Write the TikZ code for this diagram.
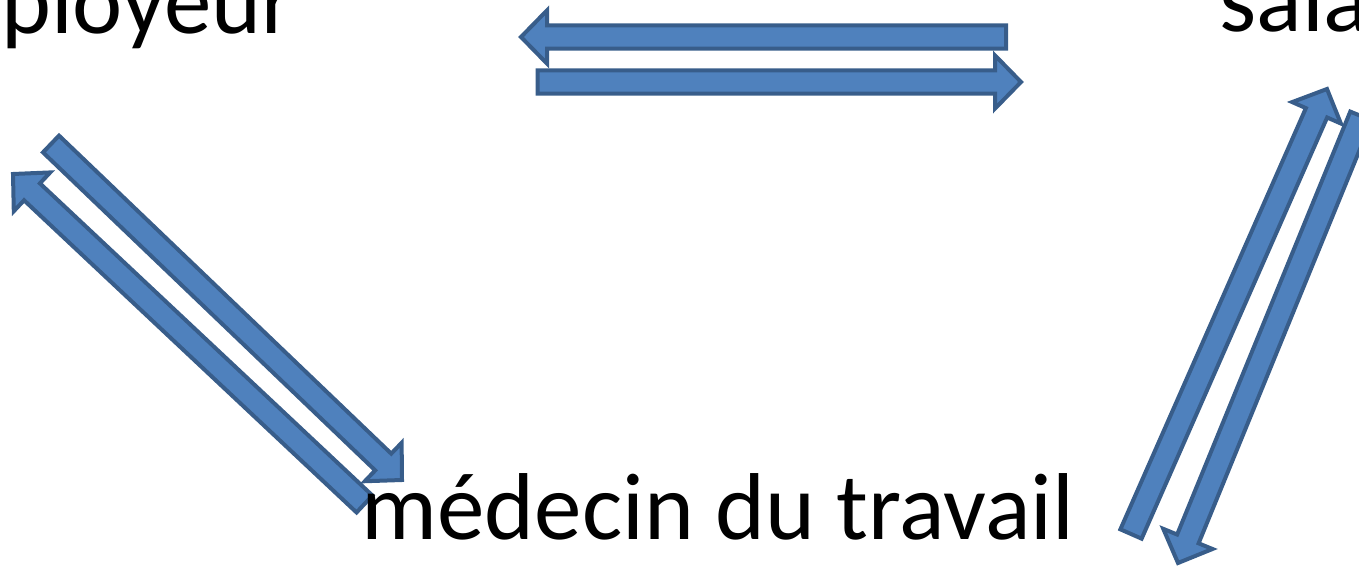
\documentclass[tikz,border=0pt]{standalone}
\usepackage{fontspec}
\setmainfont{Carlito}
\usetikzlibrary{calc}
\definecolor{arrowfill}{HTML}{4F81BD}
\definecolor{arrowline}{HTML}{385D8A}
\tikzset{
  blockarr/.style={fill=arrowfill, draw=arrowline, line width=2pt, line join=miter},
  lbl/.style={inner sep=0pt, font=\fontsize{47.5pt}{57pt}\selectfont, text=black}
}
% block arrow from tail coordinate #1 to tip coordinate #2
\newcommand\blockarrow[2]{%
  \draw[blockarr] let \p1=($(#2)-(#1)$), \n1={atan2(\y1,\x1)}, \n2={veclen(\x1,\y1)-13pt} in
   ($(#1)+(\n1+90:5.8pt)$) -- ($(#1)+(\n1:\n2)+(\n1+90:5.8pt)$)
   -- ($(#1)+(\n1:\n2)+(\n1+90:13.3pt)$) -- (#2)
   -- ($(#1)+(\n1:\n2)+(\n1-90:13.3pt)$) -- ($(#1)+(\n1:\n2)+(\n1-90:5.8pt)$)
   -- ($(#1)+(\n1-90:5.8pt)$) -- cycle;}
\begin{document}
\begin{tikzpicture}[x=0.5pt,y=-0.5pt]
\useasboundingbox (0,0) rectangle (1359,566);
\clip (0,0) rectangle (1359,566);
% arrow end points
\coordinate (aT) at (1006,37);   \coordinate (aH) at (521,37);
\coordinate (bT) at (537.5,82);  \coordinate (bH) at (1021,82);
\coordinate (cT) at (51,144);    \coordinate (cH) at (402,480);
\coordinate (dT) at (364.5,504); \coordinate (dH) at (13,174);
\coordinate (eT) at (1131,534);  \coordinate (eH) at (1327,89);
\coordinate (fT) at (1361,116);  \coordinate (fH) at (1178,563);
\blockarrow{aT}{aH}
\blockarrow{bT}{bH}
\blockarrow{cT}{cH}
\blockarrow{dT}{dH}
\blockarrow{eT}{eH}
\blockarrow{fT}{fH}
% labels
\node[lbl, anchor=base east] (emp) at (295,34) {employeur};
\node[lbl, anchor=base west] (sal) at (1219,32) {salarié};
\node[lbl, anchor=base] (med) at (718,539) {médecin du travail};
\end{tikzpicture}
\end{document}
